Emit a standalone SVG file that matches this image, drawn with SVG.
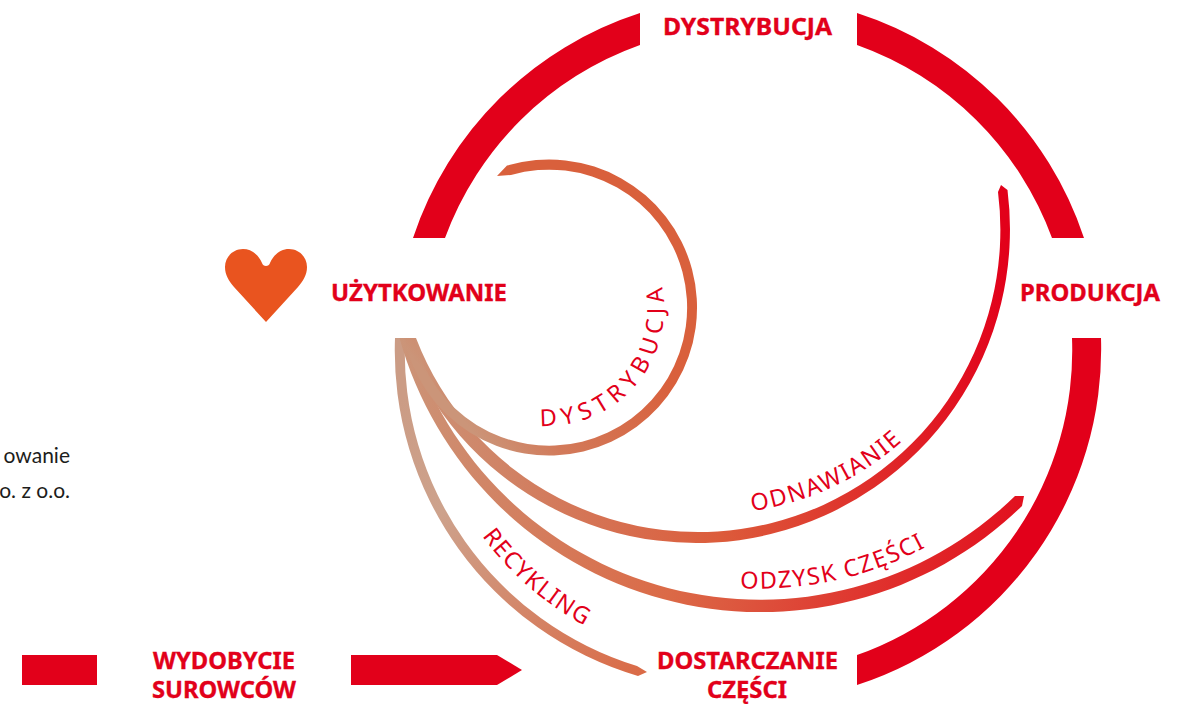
<svg xmlns="http://www.w3.org/2000/svg" width="1192" height="704" viewBox="0 0 1192 704">
<style>
.ring{fill:#e2001a}
.lb{font-family:"Noto Sans","Open Sans","Liberation Sans",sans-serif;font-weight:700;font-size:23.5px;fill:#e2001a;stroke:#e2001a;stroke-width:.35px}
.cv{font-family:"Noto Sans","Open Sans","Liberation Sans",sans-serif;font-size:23.5px;fill:#e2001a}
.nt{font-family:"Lato","Noto Sans",sans-serif;font-size:21px;fill:#1d1d1b}
</style>
<defs>
<linearGradient id="g1" gradientUnits="userSpaceOnUse" x1="420" y1="420" x2="620" y2="260"><stop offset="0.13" stop-color="#cb9579"/><stop offset="0.35" stop-color="#d27a5a"/><stop offset="0.85" stop-color="#d9603c"/></linearGradient>
<linearGradient id="g2" gradientUnits="userSpaceOnUse" x1="400" y1="340" x2="1010" y2="300"><stop offset="0" stop-color="#cb9579"/><stop offset="0.5" stop-color="#dc5c3b"/><stop offset="1" stop-color="#e2001a"/></linearGradient>
<linearGradient id="g3" gradientUnits="userSpaceOnUse" x1="400" y1="340" x2="1024" y2="496"><stop offset="0" stop-color="#cb9579"/><stop offset="0.5" stop-color="#db6a47"/><stop offset="1" stop-color="#e2101e"/></linearGradient>
<linearGradient id="g4" gradientUnits="userSpaceOnUse" x1="400" y1="400" x2="647" y2="672"><stop offset="0" stop-color="#cb9c85"/><stop offset="0.3" stop-color="#cda28c"/><stop offset="1" stop-color="#da6a46"/></linearGradient>
<path id="p1" d="M540,425.8 A117,117 0 0 0 664,309 A117,117 0 0 0 620,216"/>
<path id="p2" d="M752,511 A286,286 0 0 0 960,370"/>
<path id="p3" d="M740,588 A353,353 0 0 0 990,503"/>
<path id="p4" d="M482,536 A312,312 0 0 0 640,649"/>
</defs>
<g id="connectors">
<path class="ring" d="M640,13 A353,353 0 0 0 413,238 L445,238 A323,323 0 0 1 640,45 Z"/>
<path class="ring" d="M857,13 A353,353 0 0 1 1084,238 L1052,238 A323,323 0 0 0 857,45 Z"/>
<path class="ring" d="M1101,338 A353,353 0 0 1 857,685 L857,655 A323,323 0 0 0 1072,338 Z"/>
<path class="ring" d="M22,655 H97 V685 H22 Z"/>
<path class="ring" d="M351,655 H497 L522,670 L497,685 H351 Z"/>
<path fill="url(#g4)" d="M395,338 A339,339 0 0 0 638,676 L647,672 L637,666 A329,329 0 0 1 405,338 Z"/>
<path fill="url(#g3)" d="M1024,496 L1022,506 A375,375 0 0 1 399.5,338 L410,338 A365,365 0 0 0 1015,496 Z"/>
<path fill="url(#g2)" d="M1001,185 L1007.5,190 A313.7,313.7 0 0 1 402,338 L416,338 A302.2,302.2 0 0 0 998,192 Z"/>
<path fill="url(#g1)" d="M507,165.6 A148,148 0 1 1 404.2,338 L414.5,338 A138,138 0 1 0 511,175 L497,176 Z"/>
</g>
<g id="label-dystrybucja-inner"><text class="cv" letter-spacing="6"><textPath href="#p1">DYSTRYBUCJA</textPath></text></g>
<g id="label-odnawianie"><text class="cv" letter-spacing="1.8"><textPath href="#p2">ODNAWIANIE</textPath></text></g>
<g id="label-odzysk"><text class="cv" letter-spacing="1.6"><textPath href="#p3">ODZYSK CZĘŚCI</textPath></text></g>
<g id="label-recykling"><text class="cv" letter-spacing="1.4"><textPath href="#p4">RECYKLING</textPath></text></g>
<g id="node-dystrybucja"><text class="lb" x="663" y="35" textLength="169" lengthAdjust="spacingAndGlyphs">DYSTRYBUCJA</text></g>
<g id="node-produkcja"><text class="lb" x="1020" y="301" textLength="140" lengthAdjust="spacingAndGlyphs">PRODUKCJA</text></g>
<g id="node-uzytkowanie">
<path fill="#e9541f" d="M266,322 L234,287 C229,281 225,275 225,267 C225,257 233,249 243,249 C251,249 258,254 262,263 C263,267 269,267 270,263 C274,254 281,249 289,249 C299,249 307,257 307,267 C307,275 303,281 298,287 Z"/>
<text class="lb" x="331" y="301" textLength="176" lengthAdjust="spacingAndGlyphs">UŻYTKOWANIE</text>
</g>
<g id="node-dostarczanie">
<text class="lb" x="657" y="669" textLength="181" lengthAdjust="spacingAndGlyphs">DOSTARCZANIE</text>
<text class="lb" x="707" y="698" textLength="80" lengthAdjust="spacingAndGlyphs">CZĘŚCI</text>
</g>
<g id="node-wydobycie">
<text class="lb" x="153" y="669" textLength="142" lengthAdjust="spacingAndGlyphs">WYDOBYCIE</text>
<text class="lb" x="152" y="698" textLength="144" lengthAdjust="spacingAndGlyphs">SUROWCÓW</text>
</g>
<g id="note">
<text class="nt" x="70" y="463" text-anchor="end">owanie</text>
<text class="nt" x="70" y="498" text-anchor="end">o. z o.o.</text>
</g>
</svg>
